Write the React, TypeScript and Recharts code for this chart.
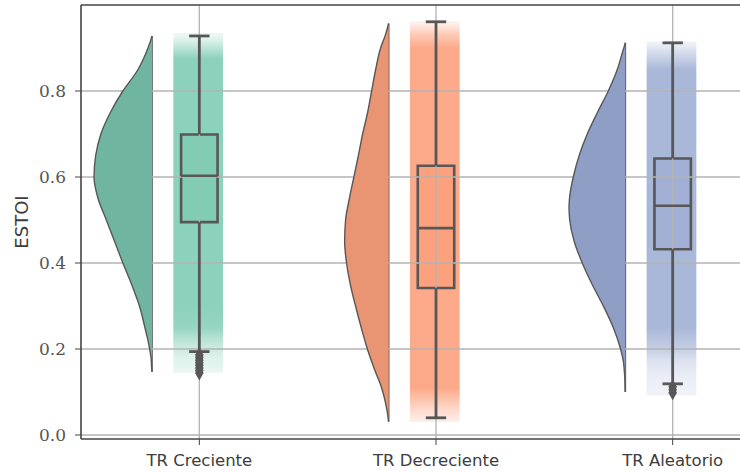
import React from 'react';
import {
  ComposedChart, XAxis, YAxis, ZAxis, Scatter, ReferenceArea, ReferenceLine,
} from 'recharts';

const categories = ['TR Creciente', 'TR Decreciente', 'TR Aleatorio'];
const yTicks = [0, 0.2, 0.4, 0.6, 0.8];

// boxplot stats per category
const whiskerLow = [0.194, 0.04, 0.119];
const q1 = [0.495, 0.342, 0.432];
const median = [0.603, 0.481, 0.533];
const q3 = [0.699, 0.626, 0.643];
const whiskerHigh = [0.928, 0.961, 0.912];

const outliers = [
  [0.186, 0.18, 0.174, 0.168, 0.162, 0.156, 0.15, 0.144],
  [],
  [0.112, 0.105, 0.098],
];

// extent of the jittered point cloud
const cloudLow = [0.145, 0.03, 0.092];
const cloudHigh = [0.935, 0.962, 0.915];

// half violins: [value, half-width in category units], top to bottom
const violinCreciente = [
  [0.928, 0], [0.915, 0.007], [0.9, 0.017], [0.875, 0.036], [0.85, 0.059],
  [0.8, 0.123], [0.75, 0.176], [0.7, 0.216], [0.65, 0.238], [0.6, 0.245],
  [0.55, 0.228], [0.5, 0.193], [0.45, 0.158], [0.4, 0.123], [0.35, 0.086],
  [0.3, 0.053], [0.25, 0.03], [0.22, 0.017], [0.2, 0.01], [0.18, 0.004],
  [0.16, 0.002], [0.147, 0],
];
const violinDecreciente = [
  [0.957, 0], [0.93, 0.014], [0.9, 0.034], [0.85, 0.055], [0.8, 0.072],
  [0.75, 0.089], [0.7, 0.11], [0.65, 0.128], [0.6, 0.147], [0.55, 0.166],
  [0.5, 0.182], [0.45, 0.186], [0.4, 0.178], [0.35, 0.162], [0.3, 0.14],
  [0.25, 0.116], [0.2, 0.09], [0.15, 0.058], [0.11, 0.03], [0.06, 0.008],
  [0.031, 0],
];
const violinAleatorio = [
  [0.912, 0], [0.89, 0.012], [0.85, 0.034], [0.8, 0.072], [0.75, 0.118],
  [0.7, 0.161], [0.65, 0.195], [0.6, 0.22], [0.55, 0.236], [0.53, 0.238],
  [0.5, 0.235], [0.45, 0.216], [0.4, 0.182], [0.35, 0.14], [0.3, 0.093],
  [0.25, 0.051], [0.2, 0.02], [0.17, 0.008], [0.14, 0.003], [0.1, 0],
];
const violins = [violinCreciente, violinDecreciente, violinAleatorio];

const pointColors = ['#66c2a5', '#fc8d62', '#8da0cb'];
const violinColors = ['#70b5a0', '#e99573', '#8f9ec4'];
const edge = '#575757';
const gridColor = '#b3b3b3';
const textColor = '#3d3d3d';

const FLAT = 0.2;   // violin flat side sits left of the category
const BOX_W = 0.077;
const CAP_W = 0.043;
const CLOUD_L = 0.11;
const CLOUD_R = 0.1;

const EstoiLabel = () => (
  <text
    x={21} y={222} transform="rotate(-90, 21, 222)"
    textAnchor="middle" dominantBaseline="central"
    fill={textColor} fontSize={18} fontFamily="DejaVu Sans"
  >
    ESTOI
  </text>
);

export default function App() {
  const violinPoints = violins.map((v, i) =>
    v.map(([y, w]) => ({ x: i - FLAT - w, y })));

  return (
    <div style={{ position: 'absolute', left: 0, top: 0, width: 740, height: 473, overflow: 'hidden', background: '#fff' }}>
      <ComposedChart width={801} height={473} margin={{ top: 5, right: 10, bottom: 5, left: 0 }}>
        <defs>
          {violins.map((v, i) => {
            const wmax = Math.max(...v.map(p => p[1]));
            const span = cloudHigh[i] - cloudLow[i];
            return (
              <linearGradient key={i} id={`cloud${i}`} x1="0" y1="0" x2="0" y2="1">
                {v.map(([y, w], k) => {
                  const off = Math.min(1, Math.max(0, (cloudHigh[i] - y) / span));
                  const op = Math.min(0.75, 0.14 + 4.5 * w / wmax);
                  return <stop key={k} offset={off} stopColor={pointColors[i]} stopOpacity={op} />;
                })}
              </linearGradient>
            );
          })}
        </defs>

        <XAxis
          type="number" dataKey="x" domain={[-0.5, 2.5]} ticks={[0, 1, 2]} interval={0}
          allowDataOverflow tickFormatter={(i: number) => categories[i]}
          height={29} tickSize={6} tickMargin={9}
          axisLine={{ stroke: '#444', strokeWidth: 1.6 }} tickLine={{ stroke: '#444' }}
          tick={{ fill: textColor, fontSize: 16.5, fontFamily: 'DejaVu Sans' }}
        />
        <YAxis
          type="number" dataKey="y" domain={[-0.0093, 1]} ticks={yTicks} interval={0}
          allowDataOverflow tickFormatter={(v: number) => v.toFixed(1)}
          width={81} tickSize={6} tickMargin={9}
          axisLine={{ stroke: '#444', strokeWidth: 1.6 }} tickLine={{ stroke: '#444' }}
          tick={{ fill: '#555', fontSize: 17, fontFamily: 'DejaVu Serif' }}
          label={<EstoiLabel />}
        />
        <ZAxis range={[42, 42]} />

        {/* point clouds */}
        {categories.map((c, i) => (
          <ReferenceArea
            key={`cl${c}`} x1={i - CLOUD_L} x2={i + CLOUD_R} y1={cloudLow[i]} y2={cloudHigh[i]}
            fill={`url(#cloud${i})`} fillOpacity={1} stroke="none"
          />
        ))}

        {/* half violins */}
        {categories.map((c, i) => (
          <Scatter
            key={`v${c}`} data={violinPoints[i]} isAnimationActive={false}
            line={{ stroke: edge, strokeWidth: 1.4, fill: violinColors[i] }}
            lineJointType="monotoneY" shape={() => <g />}
          />
        ))}
        {categories.map((c, i) => (
          <ReferenceLine
            key={`f${c}`} stroke={edge} strokeWidth={1.6}
            segment={[{ x: i - FLAT, y: violins[i][violins[i].length - 1][0] }, { x: i - FLAT, y: violins[i][0][0] }]}
          />
        ))}

        {/* grid on top of the patches */}
        {yTicks.map(t => (
          <ReferenceLine key={`gy${t}`} y={t} stroke={gridColor} strokeWidth={1.3} />
        ))}
        {categories.map((c, i) => (
          <ReferenceLine key={`gx${c}`} x={i} stroke={gridColor} strokeWidth={1.3} />
        ))}

        {/* boxes */}
        {categories.map((c, i) => (
          <ReferenceArea
            key={`b${c}`} x1={i - BOX_W} x2={i + BOX_W} y1={q1[i]} y2={q3[i]}
            fill={pointColors[i]} fillOpacity={0.3} stroke={edge} strokeWidth={2.6}
          />
        ))}
        {categories.map((c, i) => (
          <ReferenceLine key={`m${c}`} stroke={edge} strokeWidth={2.6}
            segment={[{ x: i - BOX_W, y: median[i] }, { x: i + BOX_W, y: median[i] }]} />
        ))}
        {categories.map((c, i) => (
          <ReferenceLine key={`wu${c}`} stroke={edge} strokeWidth={2.8}
            segment={[{ x: i, y: q3[i] }, { x: i, y: whiskerHigh[i] }]} />
        ))}
        {categories.map((c, i) => (
          <ReferenceLine key={`wl${c}`} stroke={edge} strokeWidth={2.8}
            segment={[{ x: i, y: q1[i] }, { x: i, y: whiskerLow[i] }]} />
        ))}
        {categories.map((c, i) => (
          <ReferenceLine key={`cu${c}`} stroke={edge} strokeWidth={2.8}
            segment={[{ x: i - CAP_W, y: whiskerHigh[i] }, { x: i + CAP_W, y: whiskerHigh[i] }]} />
        ))}
        {categories.map((c, i) => (
          <ReferenceLine key={`cd${c}`} stroke={edge} strokeWidth={2.8}
            segment={[{ x: i - CAP_W, y: whiskerLow[i] }, { x: i + CAP_W, y: whiskerLow[i] }]} />
        ))}

        {/* outliers */}
        {categories.map((c, i) => (
          <Scatter
            key={`o${c}`} data={outliers[i].map(y => ({ x: i, y }))} isAnimationActive={false}
            shape="diamond" fill={edge}
          />
        ))}

        {/* top spine */}
        <ReferenceLine y={1} stroke="#444" strokeWidth={1.6} />
      </ComposedChart>
    </div>
  );
}
